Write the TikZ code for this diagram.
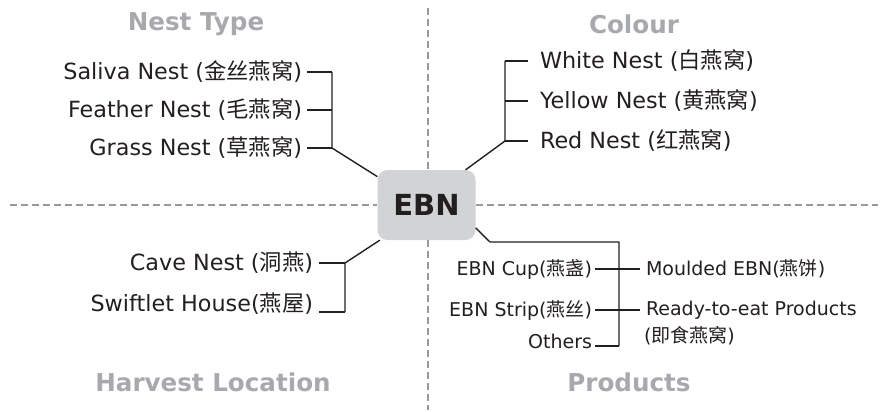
\documentclass[tikz,border=0pt]{standalone}
\usepackage{fontspec}
\setmainfont{DejaVu Sans}
\newfontfamily\cjk{Noto Sans CJK SC}
\definecolor{txt}{HTML}{231F20}
\definecolor{ttl}{HTML}{A7A9AC}
\definecolor{boxc}{HTML}{D1D3D4}
\definecolor{lnk}{HTML}{231F20}
\definecolor{dsh}{HTML}{999999}
\begin{document}
\begin{tikzpicture}[x=1pt,y=-1pt,
  item/.style={font=\fontsize{22.3}{25}\selectfont, text=txt, inner sep=0pt, outer sep=4pt},
  pitem/.style={item, font=\fontsize{19}{22}\selectfont},
  title/.style={font=\fontsize{24.6}{28}\selectfont\bfseries, text=ttl, inner sep=0pt},
  link/.style={draw=lnk, line width=1.4pt},
  divider/.style={draw=dsh, line width=2pt, dash pattern=on 7pt off 4pt}]
\useasboundingbox (0,0) rectangle (881,412);

% centre box
\node[fill=boxc, rounded corners=10pt, minimum width=98pt, minimum height=70pt,
      inner sep=0pt, font=\fontsize{29}{32}\selectfont\bfseries, text=txt] (ebn) at (426.5,205) {EBN};

% quadrant dividers
\coordinate (dl) at (10,205);
\coordinate (dr) at (878,205);
\coordinate (dt) at (428,8);
\coordinate (db) at (428,410);
\draw[divider] (dl) -- (ebn.west);
\draw[divider] (ebn.east) -- (dr);
\draw[divider] (dt) -- (dt |- ebn.north);
\draw[divider] (db |- ebn.south) -- (db);

% quadrant titles
\node[title] (tnest) at (196,24) {Nest Type};
\node[title] (tcol) at (634,24) {Colour};
\node[title] (tharv) at (213,382) {Harvest Location};
\node[title] (tprod) at (629,382) {Products};

% Nest Type
\node[item, anchor=east, outer sep=5pt] (saliva) at (307,72) {Saliva Nest ({\cjk 金丝燕窝})};
\node[item, anchor=east, outer sep=5pt] (feather) at (307,110) {Feather Nest ({\cjk 毛燕窝})};
\node[item, anchor=east, outer sep=5pt] (grass) at (307,148) {Grass Nest ({\cjk 草燕窝})};
\coordinate (n1) at (332,72);
\coordinate (n2) at (332,110);
\coordinate (n3) at (332,148);
\draw[link] (saliva.east) -- (n1);
\draw[link] (feather.east) -- (n2);
\draw[link] (grass.east) -- (n3);
\draw[link] (n1) -- (n3) -- (ebn.150);

% Colour
\node[item, anchor=west, outer sep=12pt] (white) at (528,61) {White Nest ({\cjk 白燕窝})};
\node[item, anchor=west, outer sep=12pt] (yellow) at (528,101) {Yellow Nest ({\cjk 黄燕窝})};
\node[item, anchor=west, outer sep=12pt] (red) at (528,141) {Red Nest ({\cjk 红燕窝})};
\coordinate (c1) at (505,61);
\coordinate (c3) at (505,141);
\draw[link] (c1) -- (white.west);
\draw[link] (yellow.west -| c1) -- (yellow.west);
\draw[link] (c3) -- (red.west);
\draw[link] (c1) -- (c3) -- (ebn.42);

% Harvest Location
\node[item, anchor=east, outer sep=6pt] (cave) at (319,263) {Cave Nest ({\cjk 洞燕})};
\node[item, anchor=east, outer sep=6pt] (swift) at (319,304) {Swiftlet House({\cjk 燕屋})};
\coordinate (h1) at (345,263);
\coordinate (h2) at (345,312);
\draw[link] (cave.east) -- (h1);
\draw[link] (swift.east |- h2) -- (h2);
\draw[link] (h2) -- (h1) -- (ebn.217);

% Products
\node[pitem, anchor=east, outer sep=3pt] (cup) at (595,269) {EBN Cup({\cjk 燕盏})};
\node[pitem, anchor=east, outer sep=3pt] (strip) at (595,310) {EBN Strip({\cjk 燕丝})};
\node[pitem, anchor=east, outer sep=3pt] (others) at (595,341) {Others};
\node[pitem, anchor=west, outer sep=6pt] (moulded) at (640,269) {Moulded EBN({\cjk 燕饼})};
\node[pitem, anchor=west, outer sep=6pt] (ready) at (640,310) {Ready-to-eat Products};
\node[pitem, anchor=west, outer sep=6pt] (readycn) at (638,336) {({\cjk 即食燕窝})};
\coordinate (p0) at (490,242);
\coordinate (p1) at (619,242);
\coordinate (p4) at (619,346);
\draw[link] (ebn.-25) -- (p0) -- (p1) -- (p4);
\draw[link] (cup.east) -- (moulded.west);
\draw[link] (strip.east) -- (ready.west);
\draw[link] (others.east |- p4) -- (p4);
\end{tikzpicture}
\end{document}
